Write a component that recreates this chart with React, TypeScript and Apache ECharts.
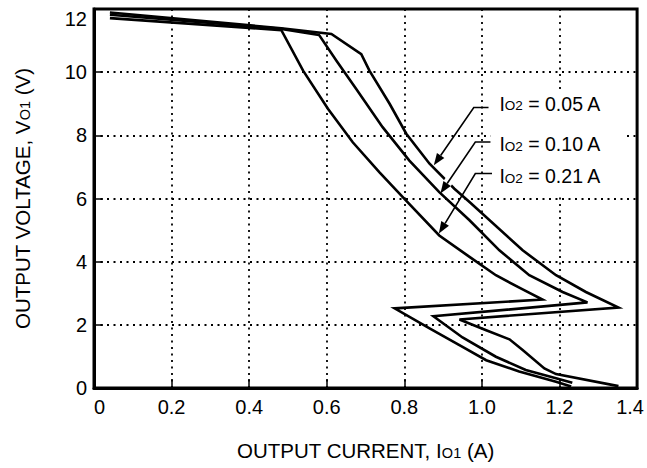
import React, { useEffect, useRef } from 'react';
import * as echarts from 'echarts';

const FONT = '"Liberation Sans", Arial, Helvetica, sans-serif';

// Axis tick labels
const xTickLabels = ['0', '0.2', '0.4', '0.6', '0.8', '1.0', '1.2', '1.4'];
const yTickLabels = ['0', '2', '4', '6', '8', '10', '12'];

// Output voltage vs. output current [I_O1 (A), V_O1 (V)] for each I_O2 load
const curveIo2_005: [number, number][] = [
  [0.041, 11.89], [0.483, 11.39], [0.612, 11.21], [0.689, 10.57], [0.710, 10.05],
  [0.762, 9.00], [0.805, 8.05], [0.865, 7.10], [0.929, 6.31], [0.968, 5.89],
  [1.105, 4.36], [1.191, 3.57], [1.268, 3.04], [1.352, 2.55], [0.942, 2.17],
  [1.011, 1.83], [1.071, 1.54], [1.105, 1.20], [1.161, 0.62], [1.191, 0.44],
  [1.352, 0.06],
];
const curveIo2_010: [number, number][] = [
  [0.041, 11.82], [0.483, 11.37], [0.580, 11.18], [0.625, 10.36], [0.676, 9.47],
  [0.744, 8.26], [0.813, 7.20], [0.890, 6.20], [0.968, 5.31], [1.045, 4.36],
  [1.122, 3.57], [1.208, 3.04], [1.272, 2.71], [0.875, 2.27], [0.950, 1.60],
  [1.036, 0.99], [1.113, 0.57], [1.191, 0.31], [1.233, 0.17],
];
const curveIo2_021: [number, number][] = [
  [0.041, 11.71], [0.483, 11.33], [0.539, 10.05], [0.603, 8.84], [0.667, 7.78],
  [0.736, 6.83], [0.796, 6.04], [0.890, 4.83], [0.968, 4.15], [1.036, 3.57],
  [1.105, 3.12], [1.156, 2.80], [0.775, 2.52], [0.865, 1.89], [0.950, 1.30],
  [1.011, 0.88], [1.096, 0.52], [1.191, 0.20], [1.230, 0.05],
];

const loadNames = ['0.05', '0.10', '0.21'];
const loadCurves = [curveIo2_005, curveIo2_010, curveIo2_021];

// Callout geometry in data units: text anchor, elbow start, elbow corner, arrow tip
const calloutText: [number, number][] = [[1.045, 9.0], [1.045, 7.72], [1.045, 6.70]];
const calloutStart: [number, number][] = [[1.017, 8.88], [1.022, 7.79], [1.026, 6.79]];
const calloutCorner: [number, number][] = [[0.979, 8.88], [0.983, 7.79], [0.983, 6.79]];
const calloutTip: [number, number][] = [[0.876, 7.05], [0.893, 6.16], [0.889, 4.89]];
// white backing behind the callout texts (data units)
const calloutBox: [number, number][] = [[1.022, 9.36], [1.367, 6.17]];

export default function App() {
  const ref = useRef<HTMLDivElement>(null);

  useEffect(() => {
    const chart = echarts.init(ref.current!, undefined, { renderer: 'svg' });

    const subRich = {
      n: { fontSize: 20.5, fontFamily: FONT, color: '#000', verticalAlign: 'bottom' },
      s: { fontSize: 14.5, fontFamily: FONT, color: '#000', verticalAlign: 'bottom', padding: [0, 0, 1, 0] },
    };

    const lastX = xTickLabels.length - 1;

    chart.setOption({
      animation: false,
      backgroundColor: '#fff',
      grid: {
        left: 94, top: 9, width: 545, height: 379,
        show: true, borderColor: '#000', borderWidth: 3, backgroundColor: 'transparent',
      },
      xAxis: {
        type: 'value', min: 0, max: 1.4, interval: 0.2,
        name: '{n|OUTPUT CURRENT, I}{s|O1}{n| (A)}',
        nameLocation: 'middle', nameGap: 52,
        nameTextStyle: { rich: subRich },
        axisLine: { lineStyle: { color: '#000', width: 3 } },
        axisTick: { inside: true, length: 9, lineStyle: { color: '#000', width: 1.5 } },
        axisLabel: {
          color: '#000', fontSize: 20, fontFamily: FONT, margin: 9,
          alignMinLabel: 'left',
          formatter: (v: number) => {
            const i = Math.round(v / 0.2);
            const s = xTickLabels[i] ?? '';
            return i === lastX ? `{last|${s}}` : s;
          },
          rich: {
            last: { fontSize: 20, fontFamily: FONT, color: '#000', padding: [0, 14, 0, 0] },
          },
        },
        splitLine: { show: true, lineStyle: { color: '#000', width: 1.8, type: [2, 4.5] } },
      },
      yAxis: {
        type: 'value', min: 0, max: 12, interval: 2,
        name: '{n|OUTPUT VOLTAGE, V}{s|O1}{n| (V)}',
        nameLocation: 'middle', nameGap: 61, nameRotate: 90,
        nameTextStyle: { rich: subRich },
        axisLine: { lineStyle: { color: '#000', width: 3 } },
        axisTick: { inside: true, length: 9, lineStyle: { color: '#000', width: 1.5 } },
        axisLabel: {
          color: '#000', fontSize: 20, fontFamily: FONT, margin: 7,
          verticalAlignMaxLabel: 'top',
          formatter: (v: number) => yTickLabels[Math.round(v / 2)] ?? '',
        },
        splitLine: { show: true, lineStyle: { color: '#000', width: 1.8, type: [2, 4.5] } },
      },
      series: loadCurves.map((data, i) => ({
        name: `IO2 = ${loadNames[i]} A`,
        type: 'line',
        data,
        symbol: 'none',
        showSymbol: false,
        silent: true,
        z: 2,
        lineStyle: { color: '#000', width: 2.6, join: 'miter' },
      })),
    });

    const px = (p: [number, number]) => chart.convertToPixel({ gridIndex: 0 }, p) as number[];
    const elements: any[] = [];

    const b0 = px(calloutBox[0]);
    const b1 = px(calloutBox[1]);
    elements.push({
      type: 'rect', z: 1, silent: true,
      shape: { x: b0[0], y: b0[1], width: b1[0] - b0[0], height: b1[1] - b0[1] },
      style: { fill: '#fff' },
    });

    loadNames.forEach((name, i) => {
      const s = px(calloutStart[i]);
      const c = px(calloutCorner[i]);
      const t = px(calloutTip[i]);
      const dx = t[0] - c[0];
      const dy = t[1] - c[1];
      const len = Math.hypot(dx, dy);
      const ux = dx / len;
      const uy = dy / len;
      const headLen = 12;
      const headHalf = 4.5;
      const bx = t[0] - ux * headLen;
      const by = t[1] - uy * headLen;

      if (i === 1) {
        // knock-out where this leader passes over the neighbouring curve
        elements.push({
          type: 'line', z: 3, silent: true,
          shape: {
            x1: c[0] + dx * 0.55, y1: c[1] + dy * 0.55,
            x2: c[0] + dx * 0.84, y2: c[1] + dy * 0.84,
          },
          style: { stroke: '#fff', lineWidth: 9 },
        });
      }
      elements.push({
        type: 'polyline', z: 4, silent: true,
        shape: { points: [[s[0], s[1]], [c[0], c[1]], [bx, by]] },
        style: { stroke: '#000', lineWidth: 1.6, fill: null },
      });
      elements.push({
        type: 'polygon', z: 4, silent: true,
        shape: {
          points: [
            [t[0], t[1]],
            [bx - uy * headHalf, by + ux * headHalf],
            [bx + uy * headHalf, by - ux * headHalf],
          ],
        },
        style: { fill: '#000' },
      });
      const tp = px(calloutText[i]);
      elements.push({
        type: 'text', z: 4, silent: true,
        x: tp[0], y: tp[1],
        style: {
          text: `{n|I}{s|O2}{n| = ${name} A}`,
          align: 'left', verticalAlign: 'middle',
          fill: '#000', font: `19.5px ${FONT}`,
          rich: {
            n: { fontSize: 19.5, fontFamily: FONT, fill: '#000', verticalAlign: 'bottom' },
            s: { fontSize: 13.5, fontFamily: FONT, fill: '#000', verticalAlign: 'bottom', padding: [0, 0, 1, 0] },
          },
        },
      });
    });

    chart.setOption({ graphic: { elements } });

    return () => chart.dispose();
  }, []);

  return (
    <div
      ref={ref}
      style={{ position: 'fixed', left: 0, top: 0, width: 647, height: 468, background: '#fff' }}
    />
  );
}
